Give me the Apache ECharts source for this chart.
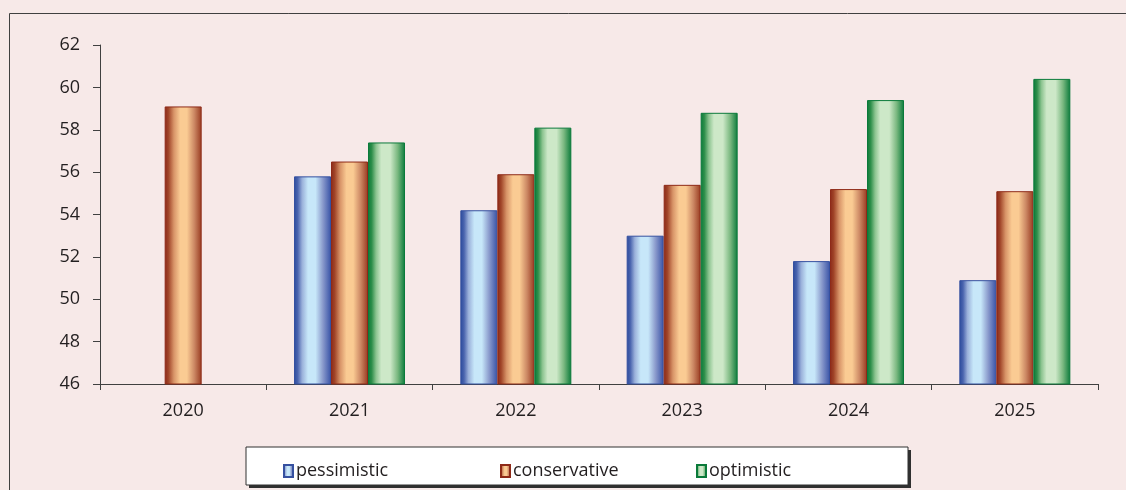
<!DOCTYPE html>
<html>
<head>
<meta charset="utf-8">
<script src="https://cdn.jsdelivr.net/npm/echarts@6/dist/echarts.min.js"></script>
<style>
html,body{margin:0;padding:0;background:#F7E9E8;}
#chart{width:1126px;height:490px;}
</style>
</head>
<body>
<div id="chart"></div>
<script>
const categories = ['2020','2021','2022','2023','2024','2025'];
const pessimistic = [null, 55.8, 54.2, 53.0, 51.8, 50.9];
const conservative = [59.1, 56.5, 55.9, 55.4, 55.2, 55.1];
const optimistic = [null, 57.4, 58.1, 58.8, 59.4, 60.4];
const yTicks = {min: 46, max: 62, interval: 2};

const FONT = '"Open Sans", sans-serif';
const TXT = '#231F20';

function grad(stops){
  return new echarts.graphic.LinearGradient(0,0,1,0, stops.map(s=>({offset:s[0], color:s[1]})));
}
const pessColor = () => grad([[0,'#2A4A9C'],[0.1,'#4A64AE'],[0.22,'#9AB0DA'],[0.38,'#C7E7F9'],[0.58,'#C7E7F9'],[0.78,'#8A9ACC'],[1,'#3852A6']]);
const consColor = () => grad([[0,'#8A2818'],[0.1,'#A04428'],[0.25,'#D89468'],[0.42,'#FACB93'],[0.6,'#FACB93'],[0.8,'#CC8864'],[1,'#983A20']]);
const optColor = () => grad([[0,'#087A38'],[0.1,'#2E8E4A'],[0.22,'#8CC490'],[0.36,'#CDE8C8'],[0.6,'#CDE8C8'],[0.8,'#7AB880'],[1,'#0A7A3A']]);

const chart = echarts.init(document.getElementById('chart'));
function legendItem(name, left){
  return {
    data:[name], left:left, top:462, padding:0, icon:'rect', itemWidth:9, itemHeight:12, itemGap:0,
    textStyle:{fontFamily:FONT, fontSize:18, color:TXT, padding:[0,0,0,-2]},
    selectedMode:false
  };
}
chart.setOption({
  backgroundColor:'#F7E9E8',
  animation:false,
  graphic:[
    {type:'rect', shape:{x:9.5,y:13.5,width:1300,height:600}, style:{fill:null, stroke:'#404040', lineWidth:1}, silent:true},
    {type:'rect', shape:{x:249,y:450,width:662,height:38}, style:{fill:'#303030'}, silent:true},
    {type:'rect', shape:{x:246,y:447,width:662,height:38}, style:{fill:'#FFFFFF', stroke:'#303030', lineWidth:1}, silent:true}
  ],
  legend:[legendItem('pessimistic',283), legendItem('conservative',500), legendItem('optimistic',696)],
  grid:{left:100, right:28, top:45, bottom:106, containLabel:false},
  xAxis:{
    type:'category', data:categories,
    axisLine:{lineStyle:{color:'#404040', width:1}},
    axisTick:{show:true, length:6, lineStyle:{color:'#404040'}},
    axisLabel:{fontFamily:FONT, fontSize:18, color:TXT, margin:18},
    splitLine:{show:false}
  },
  yAxis:{
    type:'value', min:yTicks.min, max:yTicks.max, interval:yTicks.interval,
    axisLine:{show:true, lineStyle:{color:'#404040', width:1}},
    axisTick:{show:true, length:7, lineStyle:{color:'#404040'}},
    axisLabel:{fontFamily:FONT, fontSize:18, color:TXT, margin:20},
    splitLine:{show:false}
  },
  series:[
    {name:'pessimistic', type:'bar', data:pessimistic, barWidth:37, barGap:'0%',
     itemStyle:{color:pessColor(), borderColor:'#3550A0', borderWidth:1}},
    {name:'conservative', type:'bar', data:conservative, barWidth:37, barGap:'0%',
     itemStyle:{color:consColor(), borderColor:'#8E2A18', borderWidth:1}},
    {name:'optimistic', type:'bar', data:optimistic, barWidth:37, barGap:'0%',
     itemStyle:{color:optColor(), borderColor:'#0A7A3A', borderWidth:1}}
  ]
});
</script>
</body>
</html>
